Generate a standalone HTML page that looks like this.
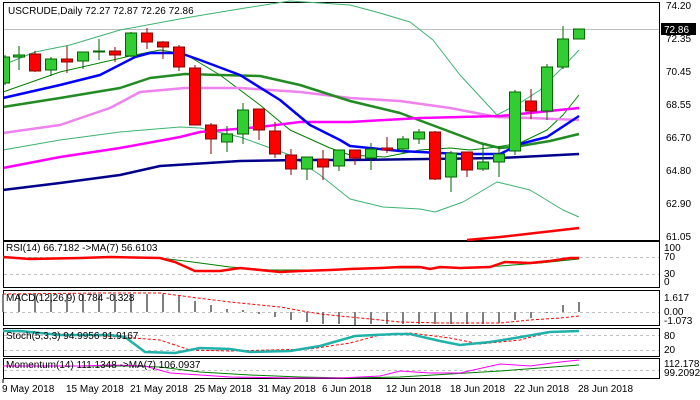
<!DOCTYPE html>
<html><head><meta charset="utf-8"><style>
body{margin:0;background:#fff}
svg{display:block}
text{font-family:"Liberation Sans",sans-serif;font-size:10px;fill:#000}
</style></head><body>
<svg width="700" height="400" viewBox="0 0 700 400" xmlns="http://www.w3.org/2000/svg">
<rect width="700" height="400" fill="#fff"/>
<!-- main frame -->
<rect x="3.5" y="2.5" width="656" height="238" fill="none" stroke="#000"/>
<line x1="4" y1="29.5" x2="659" y2="29.5" stroke="#c0c0c0"/>
<g fill="none" stroke-linejoin="round">
<polyline stroke="#3cb371" stroke-width="1" points="3,65 35,52 70,45 120,30 185,18 245,8 290,1 350,5 380,13 410,22 433,40 460,75 497,115 520,103 540,90 563,67 579,50"/>
<polyline stroke="#3cb371" stroke-width="1" points="3,150 60,140 120,132 180,127 200,128 240,137 290,155 320,175 350,199 383,207 420,209 435,212 463,202 497,182 530,190 563,210 579,217"/>
<polyline stroke="#008000" stroke-width="1" points="3,92 60,72 130,56 160,50 185,54 220,75 260,105 290,130 330,148 350,155 385,157 420,150 450,148 470,150 497,147 520,143 547,130 563,115 579,95"/>
<polyline stroke="#ee82ee" stroke-width="2.5" points="3,133 60,125 110,108 140,92 185,88 240,88 300,92 350,98 400,101 450,108 497,117 530,118 579,120"/>
<polyline stroke="#228b22" stroke-width="2.5" points="3,107 60,98 120,88 150,78 185,74 220,75 260,76 300,85 350,101 400,113 440,128 480,143 500,148 520,146 550,141 579,134"/>
<polyline stroke="#ff00ff" stroke-width="2.5" points="3,168 60,157 120,148 180,137 200,132 260,127 300,122 350,122 420,118 500,116 579,108"/>
<polyline stroke="#00008b" stroke-width="2.5" points="3,190 60,183 120,175 160,166 240,161 300,160 350,160 500,158 579,154"/>
<polyline stroke="#0000ff" stroke-width="2.5" points="3,98 60,85 100,75 135,57 150,53 180,53 200,60 240,75 280,100 310,125 340,140 350,146 400,151 460,154 500,154 520,144 547,137 579,116"/>
<polyline stroke="#ff0000" stroke-width="2.5" points="467,240 500,237 579,228"/>
</g>
<g stroke-width="1">
<!-- candles: x, bodyTop, bodyBot, wickTop, wickBot, color -->
<g stroke="#006400">
<line x1="5" y1="55" x2="5" y2="85"/><rect x="-1.5" y="57" width="11" height="26" fill="#32cd32"/>
<line x1="19" y1="46" x2="19" y2="70"/><rect x="13.5" y="55" width="11" height="2" fill="#32cd32"/>
<line x1="51" y1="57" x2="51" y2="76"/><rect x="45.5" y="59" width="11" height="11" fill="#32cd32"/>
<line x1="83" y1="52" x2="83" y2="69"/><rect x="77.5" y="52" width="11" height="9" fill="#32cd32"/>
<line x1="99" y1="39" x2="99" y2="60"/><rect x="93.5" y="51" width="11" height="1" fill="#32cd32"/>
<line x1="131" y1="32" x2="131" y2="57"/><rect x="125.5" y="33" width="11" height="23" fill="#32cd32"/>
<line x1="227" y1="126" x2="227" y2="152"/><rect x="221.5" y="134" width="11" height="8" fill="#32cd32"/>
<line x1="243" y1="103" x2="243" y2="144"/><rect x="237.5" y="110" width="11" height="24" fill="#32cd32"/>
<line x1="307" y1="157" x2="307" y2="180"/><rect x="301.5" y="157" width="11" height="12" fill="#32cd32"/>
<line x1="339" y1="150" x2="339" y2="171"/><rect x="333.5" y="150" width="11" height="16" fill="#32cd32"/>
<line x1="371" y1="143" x2="371" y2="170"/><rect x="365.5" y="149" width="11" height="9" fill="#32cd32"/>
<line x1="403" y1="136" x2="403" y2="153"/><rect x="397.5" y="139" width="11" height="10" fill="#32cd32"/>
<line x1="419" y1="129" x2="419" y2="144"/><rect x="413.5" y="132" width="11" height="7" fill="#32cd32"/>
<line x1="451" y1="151" x2="451" y2="192"/><rect x="445.5" y="153" width="11" height="24" fill="#32cd32"/>
<line x1="483" y1="144" x2="483" y2="171"/><rect x="477.5" y="162" width="11" height="7" fill="#32cd32"/>
<line x1="499" y1="146" x2="499" y2="177"/><rect x="493.5" y="154" width="11" height="8" fill="#32cd32"/>
<line x1="515" y1="90" x2="515" y2="155"/><rect x="509.5" y="92" width="11" height="59" fill="#32cd32"/>
<line x1="547" y1="64" x2="547" y2="120"/><rect x="541.5" y="67" width="11" height="44" fill="#32cd32"/>
<line x1="563" y1="26" x2="563" y2="69"/><rect x="557.5" y="39" width="11" height="28" fill="#32cd32"/>
<rect x="573.5" y="29" width="11" height="10" fill="#32cd32"/>
</g>
<g stroke="#8b0000">
<line x1="35" y1="51" x2="35" y2="72"/><rect x="29.5" y="54" width="11" height="17" fill="#f00"/>
<line x1="67" y1="46" x2="67" y2="73"/><rect x="61.5" y="59" width="11" height="3" fill="#f00"/>
<line x1="115" y1="47" x2="115" y2="62"/><rect x="109.5" y="51" width="11" height="4" fill="#f00"/>
<line x1="147" y1="28" x2="147" y2="49"/><rect x="141.5" y="33" width="11" height="9" fill="#f00"/>
<line x1="163" y1="41" x2="163" y2="59"/><rect x="157.5" y="42" width="11" height="5" fill="#f00"/>
<line x1="179" y1="45" x2="179" y2="71"/><rect x="173.5" y="47" width="11" height="20" fill="#f00"/>
<line x1="195" y1="65" x2="195" y2="125"/><rect x="189.5" y="68" width="11" height="57" fill="#f00"/>
<line x1="211" y1="123" x2="211" y2="154"/><rect x="205.5" y="125" width="11" height="14" fill="#f00"/>
<line x1="259" y1="109" x2="259" y2="140"/><rect x="253.5" y="109" width="11" height="21" fill="#f00"/>
<line x1="275" y1="122" x2="275" y2="158"/><rect x="269.5" y="131" width="11" height="23" fill="#f00"/>
<line x1="291" y1="149" x2="291" y2="175"/><rect x="285.5" y="155" width="11" height="14" fill="#f00"/>
<line x1="323" y1="150" x2="323" y2="180"/><rect x="317.5" y="159" width="11" height="8" fill="#f00"/>
<line x1="355" y1="150" x2="355" y2="165"/><rect x="349.5" y="150" width="11" height="8" fill="#f00"/>
<line x1="387" y1="137" x2="387" y2="153"/><rect x="381.5" y="148" width="11" height="2" fill="#f00"/>
<line x1="435" y1="131" x2="435" y2="180"/><rect x="429.5" y="132" width="11" height="47" fill="#f00"/>
<line x1="467" y1="152" x2="467" y2="177"/><rect x="461.5" y="152" width="11" height="18" fill="#f00"/>
<line x1="531" y1="89" x2="531" y2="119"/><rect x="525.5" y="101" width="11" height="10" fill="#f00"/>
</g>
</g>
<rect x="0" y="2" width="3" height="240" fill="#fff"/>
<line x1="3.5" y1="2" x2="3.5" y2="241" stroke="#000"/>
<text x="8" y="14">USCRUDE,Daily  72.27 72.87 72.26 72.86</text>
<g>
<text x="666" y="9">74.20</text><text x="666" y="42">72.35</text><text x="666" y="75">70.45</text><text x="666" y="108">68.55</text><text x="666" y="141">66.70</text><text x="666" y="174">64.80</text><text x="666" y="207">62.90</text><text x="666" y="240">61.05</text>
<rect x="661" y="23" width="35" height="12" fill="#000"/><text x="664" y="33" style="fill:#fff">72.86</text>
</g>
<!-- RSI -->
<rect x="3.5" y="241.5" width="656" height="46" fill="none" stroke="#000"/>
<g stroke="#c0c0c0" stroke-dasharray="3,3"><line x1="4" y1="257.5" x2="659" y2="257.5"/><line x1="4" y1="274.5" x2="659" y2="274.5"/></g>
<polyline fill="none" stroke="#008000" points="3,258 60,258 110,257 160,258 185,261 230,267 270,270 300,270 330,270 380,268 420,268 460,268 500,266 540,263 579,259"/>
<polyline fill="none" stroke="#f00" stroke-width="2.5" points="3,257 30,259 80,258 110,257 160,258 175,262 195,271 220,271 240,268 260,270 280,272 300,271 330,270 350,269 380,268 400,267 420,267 430,269 440,267 460,268 490,267 505,262 530,263 550,261 570,258 579,258"/>
<text x="6" y="251">RSI(14) 66.7182  -&gt;MA(7) 56.6103</text>
<text x="664" y="251">100</text><text x="664" y="260">70</text><text x="664" y="277">30</text><text x="664" y="285">0</text>
<!-- MACD -->
<rect x="3.5" y="290.5" width="656" height="35" fill="none" stroke="#000"/>
<line x1="4" y1="312.5" x2="659" y2="312.5" stroke="#c0c0c0" stroke-dasharray="3,3"/>
<g stroke="#808080" stroke-width="2">
<line x1="3" y1="312" x2="3" y2="294"/><line x1="19" y1="312" x2="19" y2="294"/><line x1="35" y1="312" x2="35" y2="294"/><line x1="51" y1="312" x2="51" y2="294"/><line x1="67" y1="312" x2="67" y2="294"/><line x1="83" y1="312" x2="83" y2="294"/><line x1="99" y1="312" x2="99" y2="294"/><line x1="115" y1="312" x2="115" y2="294"/><line x1="131" y1="312" x2="131" y2="294"/><line x1="147" y1="312" x2="147" y2="294"/><line x1="163" y1="312" x2="163" y2="294"/><line x1="179" y1="312" x2="179" y2="296"/><line x1="195" y1="312" x2="195" y2="301"/><line x1="211" y1="312" x2="211" y2="305"/><line x1="227" y1="312" x2="227" y2="309"/><line x1="243" y1="312" x2="243" y2="310"/><line x1="259" y1="312" x2="259" y2="314"/><line x1="275" y1="312" x2="275" y2="317"/><line x1="291" y1="312" x2="291" y2="320"/><line x1="307" y1="312" x2="307" y2="322"/><line x1="323" y1="312" x2="323" y2="324"/><line x1="339" y1="312" x2="339" y2="324"/><line x1="355" y1="312" x2="355" y2="325"/><line x1="371" y1="312" x2="371" y2="324"/><line x1="387" y1="312" x2="387" y2="324"/><line x1="403" y1="312" x2="403" y2="324"/><line x1="419" y1="312" x2="419" y2="324"/><line x1="435" y1="312" x2="435" y2="324"/><line x1="451" y1="312" x2="451" y2="324"/><line x1="467" y1="312" x2="467" y2="324"/><line x1="483" y1="312" x2="483" y2="324"/><line x1="499" y1="312" x2="499" y2="323"/><line x1="515" y1="312" x2="515" y2="320"/><line x1="531" y1="312" x2="531" y2="318"/><line x1="547" y1="312" x2="547" y2="313"/><line x1="563" y1="312" x2="563" y2="305"/><line x1="579" y1="312" x2="579" y2="302"/>
</g>
<polyline fill="none" stroke="#f00" stroke-dasharray="3,2" points="3,294 100,293 160,293 190,297 230,302 280,307 320,314 360,318 400,322 440,323 500,323 530,320 560,318 579,316"/>
<text x="6" y="301">MACD(12,26,9) 0.784 -0.328</text>
<text x="664" y="301">1.617</text><text x="664" y="315">0.00</text><text x="664" y="324">-1.073</text>
<!-- Stoch -->
<rect x="3.5" y="328.5" width="656" height="28" fill="none" stroke="#000"/>
<g stroke="#c0c0c0" stroke-dasharray="3,3"><line x1="4" y1="335.5" x2="659" y2="335.5"/><line x1="4" y1="350.5" x2="659" y2="350.5"/></g>
<polyline fill="none" stroke="#f00" stroke-dasharray="3,2" points="3,331 60,334 120,337 160,340 190,350 230,351 270,350 310,349 350,343 380,335 410,333 450,338 480,344 520,340 550,332 579,331"/>
<polyline fill="none" stroke="#20b2aa" stroke-width="2.5" points="3,331 20,331 60,335 110,335 125,337 145,352 175,353 200,348 230,349 250,352 290,351 320,346 355,336 395,334 410,334 440,341 460,345 490,342 515,338 550,332 579,331"/>
<text x="6" y="339">Stoch(5,3,3) 94.9956 91.9167</text>
<text x="664" y="339">80</text><text x="664" y="353">20</text>
<!-- Momentum -->
<rect x="3.5" y="358.5" width="656" height="20" fill="none" stroke="#000"/>
<line x1="4" y1="370.5" x2="659" y2="370.5" stroke="#c0c0c0" stroke-dasharray="3,3"/>
<polyline fill="none" stroke="#008000" points="3,366 60,366 130,366 160,367 200,372 250,375 300,377 350,378 400,377 450,374 500,371 540,368 579,365"/>
<polyline fill="none" stroke="#f0f" points="3,366 80,366 110,365 145,366 170,373 230,377 290,378 340,378 380,376 400,371 430,373 460,373 500,364 530,366 560,362 579,360"/>
<text x="6" y="368">Momentum(14) 111.1348  -&gt;MA(7) 106.0937</text>
<text x="664" y="367">112.1789</text><text x="664" y="376">99.2092</text>
<!-- dates -->
<g>
<line x1="3" y1="379" x2="3" y2="383" stroke="#000"/>
<text x="2" y="392">9 May 2018</text><text x="66" y="392">15 May 2018</text><text x="130" y="392">21 May 2018</text><text x="194" y="392">25 May 2018</text><text x="258" y="392">31 May 2018</text><text x="322" y="392">6 Jun 2018</text><text x="386" y="392">12 Jun 2018</text><text x="450" y="392">18 Jun 2018</text><text x="514" y="392">22 Jun 2018</text><text x="578" y="392">28 Jun 2018</text>
</g>
</svg>
</body></html>
